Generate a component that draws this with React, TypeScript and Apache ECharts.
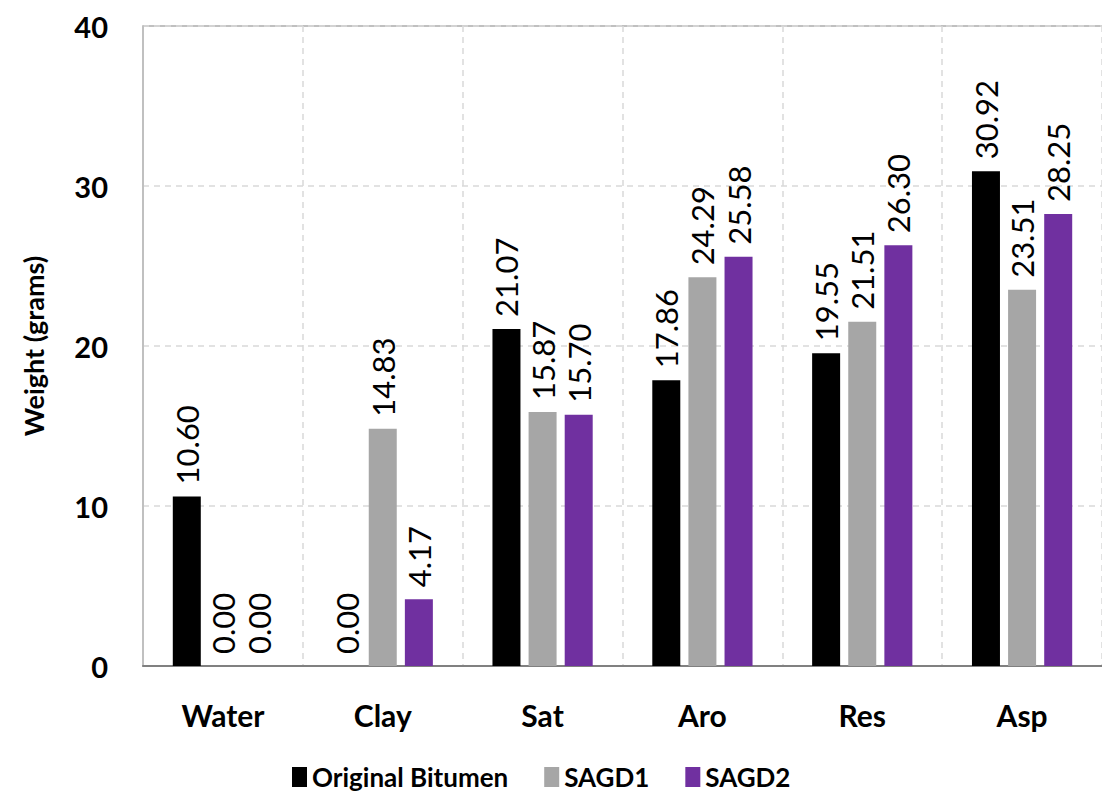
import React, { useEffect, useRef } from "react";
import * as echarts from "echarts";

const categories = ["Water", "Clay", "Sat", "Aro", "Res", "Asp"];
const originalBitumen = [10.6, 0.0, 21.07, 17.86, 19.55, 30.92];
const sagd1 = [0.0, 14.83, 15.87, 24.29, 21.51, 23.51];
const sagd2 = [0.0, 4.17, 15.7, 25.58, 26.3, 28.25];
const yTicks = { min: 0, max: 40, interval: 10 };

const FONT = "Lato, 'Open Sans', sans-serif";

const labelStyle = {
  show: true,
  position: "top" as const,
  rotate: 90,
  align: "left" as const,
  verticalAlign: "middle" as const,
  distance: 12,
  fontSize: 31,
  fontFamily: FONT,
  color: "#000",
  formatter: (p: any) => Number(p.value).toFixed(2),
};

export default function App() {
  const ref = useRef<HTMLDivElement>(null);

  useEffect(() => {
    if (!ref.current) return;
    const chart = echarts.init(ref.current, undefined, { renderer: "svg" });
    const mk = (name: string, data: number[], color: string) => ({
      name,
      type: "bar",
      data,
      barWidth: 28,
      barGap: "29%",
      itemStyle: { color },
      label: labelStyle,
    });
    chart.setOption({
      animation: false,
      backgroundColor: "#fff",
      textStyle: { fontFamily: FONT },
      grid: { left: 143, right: -1, top: 26, bottom: 142, containLabel: false, show: false },
      legend: {
        left: 287,
        top: 759,
        itemWidth: 15,
        itemHeight: 20,
        itemGap: 36,
        icon: "rect",
        textStyle: { fontSize: 26, fontWeight: "bold", color: "#000", fontFamily: FONT },
        data: ["Original Bitumen", "SAGD1", "SAGD2"],
      },
      xAxis: {
        type: "category",
        data: categories,
        axisLine: { lineStyle: { color: "#808080", width: 2 } },
        axisTick: { show: false },
        axisLabel: { fontSize: 30, fontWeight: "bold", color: "#000", margin: 34, fontFamily: FONT },
        splitLine: { show: true, lineStyle: { type: [6, 5], color: "#d9d9d9", width: 1.5 } },
      },
      yAxis: {
        type: "value",
        min: yTicks.min,
        max: yTicks.max,
        interval: yTicks.interval,
        name: "Weight (grams)",
        nameLocation: "middle",
        nameGap: 96,
        nameTextStyle: { fontSize: 27, fontWeight: "bold", color: "#000", fontFamily: FONT },
        axisLine: { show: true, lineStyle: { color: "#c0c0c0", width: 2 } },
        axisTick: { show: false },
        axisLabel: { fontSize: 29, fontWeight: "bold", color: "#000", margin: 35, fontFamily: FONT },
        splitLine: { show: true, lineStyle: { type: [6, 5], color: "#d9d9d9", width: 1.5 } },
      },
      graphic: [
        {
          type: "line",
          shape: { x1: 143, y1: 26, x2: 1102, y2: 26 },
          style: { stroke: "#c0c0c0", lineWidth: 2 },
        },
      ],
      series: [
        mk("Original Bitumen", originalBitumen, "#000000"),
        mk("SAGD1", sagd1, "#a6a6a6"),
        mk("SAGD2", sagd2, "#7030a0"),
      ],
    });
    return () => chart.dispose();
  }, []);

  return (
    <div
      ref={ref}
      style={{ position: "fixed", left: 0, top: 0, width: 1102, height: 808, background: "#fff" }}
    />
  );
}
